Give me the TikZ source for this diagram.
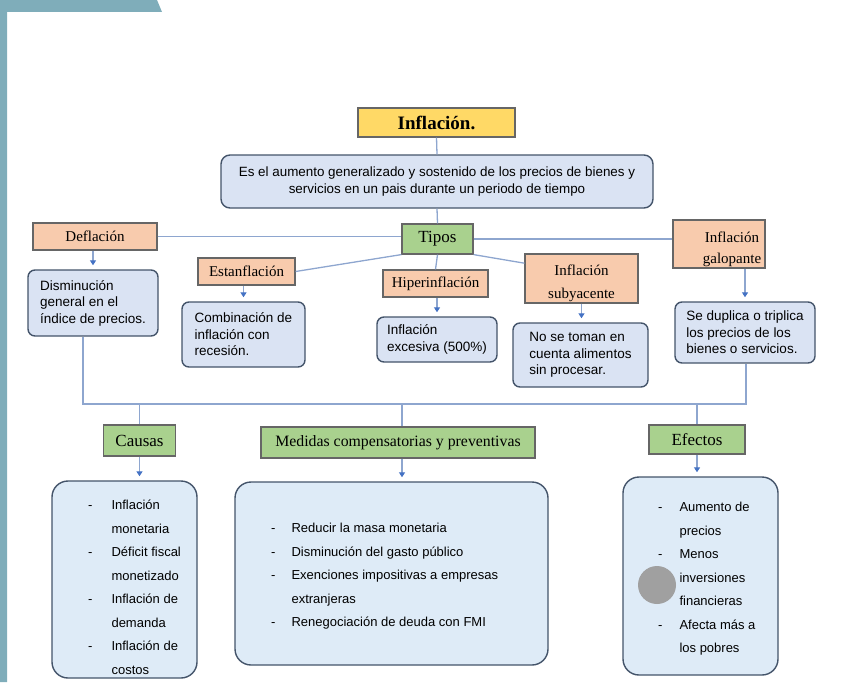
\documentclass[tikz,border=0pt]{standalone}
\usepackage{fontspec}
\setmainfont{Liberation Serif}
\setsansfont{Liberation Sans}
\usetikzlibrary{arrows.meta}
\definecolor{azulgris}{HTML}{7FADBA}
\definecolor{amarillo}{HTML}{FFD966}
\definecolor{naranja}{HTML}{F8CBAD}
\definecolor{verde}{HTML}{A9D18E}
\definecolor{celeste}{HTML}{DAE3F3}
\definecolor{celestec}{HTML}{DEEBF7}
\definecolor{borde}{HTML}{44546A}
\definecolor{conector}{HTML}{8EA6CF}
\definecolor{punta}{HTML}{4472C4}
\definecolor{gris}{HTML}{A0A0A0}

\begin{document}
\begin{tikzpicture}[x=10pt,y=-10pt,
  linea/.style={draw=conector, line width=1.3pt},
  flecha/.style={linea, -{Triangle[length=5pt,width=6pt,color=punta]}, shorten >=4pt},
  caja/.style={draw=black!60, line width=1.2pt, align=center, inner sep=2pt,
    font=\fontsize{15}{21}\selectfont},
  etiqueta/.style={caja, fill=naranja},
  rama/.style={caja, fill=verde, font=\fontsize{17}{20}\selectfont},
  desc/.style={draw=borde, line width=1.4pt, rounded corners=7pt, fill=celeste,
    align=left, inner sep=2pt, font=\sffamily\fontsize{13.5}{16.5}\selectfont},
  lista/.style={draw=borde, line width=1.4pt, rounded corners=16pt, fill=celestec},
  textolista/.style={anchor=base west, inner sep=0pt,
    font=\sffamily\fontsize{13}{23.5}\selectfont}]
  \useasboundingbox (0,0) rectangle (85.8,68.2);
  % Marco de la diapositiva
  \fill[azulgris] (0,0) -- (15.7,0) -- (16.2,1.2) -- (0.7,1.2) -- (0.7,68.2) -- (0,68.2) -- cycle;

  % Título y definición
  \node[caja, fill=amarillo, font=\bfseries\fontsize{19}{22}\selectfont,
    minimum width=157pt, minimum height=29pt] (titulo) at (43.65,12.25) {Inflación.};
  \node[desc, align=center, rounded corners=9pt, font=\sffamily\fontsize{13.4}{16.5}\selectfont,
    minimum width=432pt, minimum height=53pt] (def) at (43.7,18.15)
    {Es el aumento generalizado y sostenido de los precios de bienes y\\
     servicios en un pais durante un periodo de tiempo};

  % Tipos
  \node[rama, minimum width=71pt, minimum height=30pt] (tipos) at (43.75,23.9) {Tipos};
  \node[etiqueta, minimum width=124pt, minimum height=27pt] (defl) at (9.5,23.65) {Deflación};
  \node[etiqueta, minimum width=97pt, minimum height=27pt] (estan) at (24.65,27.15) {Estanflación};
  \node[etiqueta, minimum width=105pt, minimum height=27pt] (hiper) at (43.55,28.35) {Hiperinflación};
  \node[etiqueta, font=\fontsize{15}{23}\selectfont, text height=19pt, text depth=26pt,
    minimum width=113pt, minimum height=49pt] (subya) at (58.15,27.85)
    {\begin{tabular}[t]{@{}c@{}}Inflación\\ subyacente\end{tabular}};
  \node[etiqueta, text height=20pt, text depth=24pt, minimum width=92pt, minimum height=48pt]
    (galop) at (71.9,24.4)
    {\hspace*{26pt}\begin{tabular}[t]{@{}c@{}}Inflación\\ galopante\end{tabular}};

  % Descripciones
  \node[desc, minimum width=130pt, minimum height=66pt] (dism) at (9.3,30.3)
    {Disminución\\ general en el\\ índice de precios.};
  \node[desc, minimum width=123pt, minimum height=65pt] (comb) at (24.35,33.45)
    {Combinación de\\ inflación con\\ recesión.};
  \node[desc, minimum width=120pt, minimum height=45pt] (exces) at (43.7,33.95)
    {Inflación\\ excesiva (500\%)};
  \node[desc, minimum width=135pt, minimum height=64pt] (notom) at (58.05,35.5)
    {No se toman en\\ cuenta alimentos\\ sin procesar.};
  \node[desc, minimum width=140pt, minimum height=61pt] (dupl) at (74.5,33.25)
    {Se duplica o triplica\\ los precios de los\\ bienes o servicios.};

  % Causas, medidas y efectos
  \node[rama, minimum width=72pt, minimum height=31pt] (causas) at (13.95,44.05) {Causas};
  \node[rama, font=\fontsize{15.8}{18}\selectfont, minimum width=274pt, minimum height=31pt]
    (medidas) at (39.8,44.25) {Medidas compensatorias y preventivas};
  \node[rama, minimum width=96pt, minimum height=29pt] (efectos) at (69.7,43.95) {Efectos};

  \node[lista, minimum width=145pt, minimum height=197pt] (lcausas) at (12.45,57.95) {};
  \node[lista, minimum width=313pt, minimum height=183pt] (lmedidas) at (39.15,57.35) {};
  \node[lista, minimum width=155pt, minimum height=198pt] (lefectos) at (70.05,57.6) {};

  \node[textolista] (tcausas) at (8.8,50.95)
    {\begin{tabular}[t]{@{}l@{\hspace{19pt}}l@{}}
      - & Inflación\\ & monetaria\\
      - & Déficit fiscal\\ & monetizado\\
      - & Inflación de\\ & demanda\\
      - & Inflación de\\ & costos
    \end{tabular}};
  \node[textolista] (tmedidas) at (27.1,53.25)
    {\begin{tabular}[t]{@{}l@{\hspace{16pt}}l@{}}
      - & Reducir la masa monetaria\\
      - & Disminución del gasto público\\
      - & Exenciones impositivas a empresas\\ & extranjeras\\
      - & Renegociación de deuda con FMI
    \end{tabular}};
  \node[textolista] (tefectos) at (65.8,51.15)
    {\begin{tabular}[t]{@{}l@{\hspace{17pt}}l@{}}
      - & Aumento de\\ & precios\\
      - & Menos\\ & inversiones\\ & financieras\\
      - & Afecta más a\\ & los pobres
    \end{tabular}};
  \fill[gris] (65.7,58.5) circle (19pt);

  % Conexiones
  \draw[linea] (titulo.south) -- (def.north);
  \draw[linea] (def.south) -- (tipos.north);
  \draw[linea] (defl.east) -- (defl.east -| tipos.west);
  \draw[linea] (tipos.east) -- (tipos.east -| galop.west);
  \draw[linea] (tipos.south west) -- (estan.east);
  \draw[linea] (tipos.south) -- (hiper.north);
  \draw[linea] (tipos.south east) -- (subya.165);

  \draw[flecha] (dism.north |- defl.south) -- (dism.north);
  \draw[flecha] (comb.north |- estan.south) -- (comb.north);
  \draw[flecha] (exces.north |- hiper.south) -- (exces.north);
  \draw[flecha] (subya.south) -- (subya.south |- notom.north);
  \draw[flecha] (dupl.north |- galop.south) -- (dupl.north);

  % Línea inferior
  \coordinate (busizq) at (8.3,40.4);
  \coordinate (busder) at (74.6,40.4);
  \coordinate (busmed) at (40.2,40.4);
  \draw[linea] (dism.south -| busizq) -- (busizq) -- (busder) -- (busder |- dupl.south);
  \draw[linea] (causas.north |- busizq) -- (causas.north);
  \draw[linea] (busmed) -- (busmed |- medidas.north);
  \draw[linea] (efectos.north |- busizq) -- (efectos.north);

  \draw[flecha] (causas.south) -- (causas.south |- lcausas.north);
  \draw[flecha] (busmed |- medidas.south) -- (busmed |- lmedidas.north);
  \draw[flecha] (efectos.south) -- (efectos.south |- lefectos.north);
\end{tikzpicture}
\end{document}
